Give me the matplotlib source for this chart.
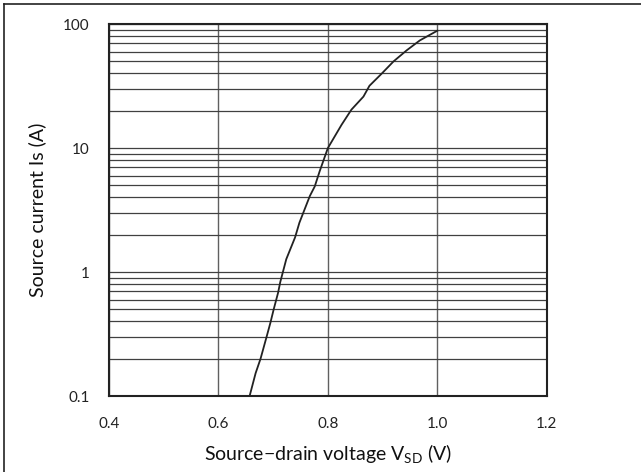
import matplotlib
matplotlib.use("Agg")
import matplotlib.pyplot as plt
from matplotlib.ticker import FixedLocator, FixedFormatter, LogLocator, NullFormatter
from matplotlib.lines import Line2D

plt.rcParams['font.family'] = ['Lato', 'DejaVu Sans']
plt.rcParams['mathtext.fontset'] = 'custom'
plt.rcParams['mathtext.rm'] = 'Lato'
plt.rcParams['mathtext.it'] = 'Lato:italic'

# --- curve ---
vsd = [0.657, 0.668, 0.677, 0.688, 0.695, 0.701, 0.709, 0.713, 0.724, 0.740,
       0.748, 0.767, 0.776, 0.785, 0.800, 0.825, 0.843, 0.865, 0.876, 0.898,
       0.920, 0.944, 0.968, 1.000]
i_s = [0.1, 0.153, 0.2, 0.30, 0.39, 0.50, 0.68, 0.83, 1.27, 1.9,
       2.5, 4.1, 4.9, 6.5, 10, 15.4, 20.4, 26, 31.8, 39.7,
       50, 61.4, 73.8, 88.4]

x_ticks = [0.4, 0.6, 0.8, 1.0, 1.2]
x_labels = ["0.4", "0.6", "0.8", "1.0", "1.2"]
y_ticks = [0.1, 1, 10, 100]
y_labels = ["0.1", "1", "10", "100"]

fig = plt.figure(figsize=(6.41, 4.72), dpi=100)
ax = fig.add_axes([0.170, 0.161, 0.683, 0.788])

ax.plot(vsd, i_s, color='#222222', linewidth=1.3, zorder=3)

ax.set_yscale('log')
ax.set_xlim(0.4, 1.2)
ax.set_ylim(0.1, 100)

ax.xaxis.set_major_locator(FixedLocator(x_ticks))
ax.xaxis.set_major_formatter(FixedFormatter(x_labels))
ax.yaxis.set_major_locator(FixedLocator(y_ticks))
ax.yaxis.set_major_formatter(FixedFormatter(y_labels))
ax.yaxis.set_minor_locator(LogLocator(base=10, subs=range(2, 10)))
ax.yaxis.set_minor_formatter(NullFormatter())

ax.grid(True, which='major', axis='x', color='#606060', linewidth=1.0)
ax.grid(True, which='both', axis='y', color='#404040', linewidth=0.9)
ax.tick_params(which='both', length=0)
ax.tick_params(axis='y', pad=14, labelsize=11, colors='#222222')
ax.tick_params(axis='x', pad=15, labelsize=11, colors='#222222')

for sp in ax.spines.values():
    sp.set_linewidth(1.5)
    sp.set_color('#222222')

ax.set_xlabel("Source\u2212drain voltage V$_{\\mathrm{SD}}$ (V)", fontsize=14,
              labelpad=8, color='#111111')
ax.set_ylabel("Source current Is (A)", fontsize=14, labelpad=12, color='#111111')

# border lines of the surrounding frame (top and left)
fig.add_artist(Line2D([4 / 641, 1], [1 - 4 / 472, 1 - 4 / 472],
                      transform=fig.transFigure, color='#222222', linewidth=1.2))
fig.add_artist(Line2D([4 / 641, 4 / 641], [0, 1 - 4 / 472],
                      transform=fig.transFigure, color='#222222', linewidth=1.2))

fig.savefig("out.png", dpi=100)
